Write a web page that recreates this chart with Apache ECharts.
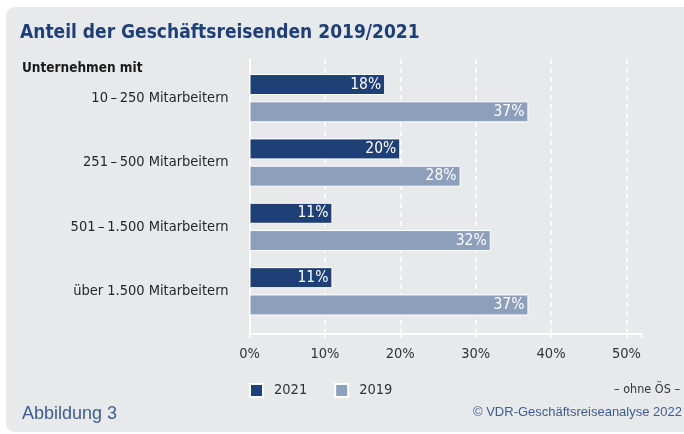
<!DOCTYPE html>
<html>
<head>
<meta charset="utf-8">
<script src="https://cdn.jsdelivr.net/npm/echarts@6/dist/echarts.min.js"></script>
<style>
  html, body { margin: 0; padding: 0; background: #fff; }
  #card { position: absolute; left: 6px; top: 7px; width: 700px; height: 425px; background: #e8e9eb; border-radius: 9px; }
  #main { position: absolute; left: 0; top: 0; width: 684px; height: 434px; }
</style>
</head>
<body>
<div id="card"></div>
<div id="main"></div>
<script>
const categories = ['10\u2009–\u2009250 Mitarbeitern', '251\u2009–\u2009500 Mitarbeitern', '501\u2009–\u20091.500 Mitarbeitern', 'über 1.500 Mitarbeitern'];
const values2021 = [18, 20, 11, 11];
const values2019 = [37, 28, 32, 37];
const tickValues = [0, 10, 20, 30, 40, 50];

const narrow = "'Liberation Sans Narrow', 'DejaVu Sans Condensed', sans-serif";
const dark = '#1f3f77';
const light = '#8d9fbb';
const textBlue = '#3d5d91';

const chart = echarts.init(document.getElementById('main'));

const barLabel = {
    show: true,
    position: 'insideRight',
    distance: 4,
    color: '#fff',
    fontFamily: narrow,
    fontSize: 15.5,
    formatter: p => p.value + '%'
};

const option = {
    backgroundColor: 'transparent',
    animation: false,
    title: [
        {
            text: 'Anteil der Geschäftsreisenden 2019/2021',
            left: 20, top: 24, padding: 0,
            textStyle: { color: dark, fontFamily: narrow, fontWeight: 'bold', fontSize: 19 }
        },
        {
            text: 'Unternehmen mit',
            left: 22, top: 61, padding: 0,
            textStyle: { color: '#1a1a1a', fontFamily: narrow, fontWeight: 'bold', fontSize: 13.5 }
        },
        {
            text: '– ohne ÖS –',
            right: 4, top: 383, padding: 0,
            textStyle: { color: '#333', fontFamily: narrow, fontWeight: 'normal', fontSize: 12.5 }
        },
        {
            text: 'Abbildung 3',
            left: 22, top: 405, padding: 0,
            textStyle: { color: textBlue, fontFamily: 'Liberation Sans, sans-serif', fontWeight: 'normal', fontSize: 18 }
        },
        {
            text: '© VDR-Geschäftsreiseanalyse 2022',
            right: 2, top: 406, padding: 0,
            textStyle: { color: textBlue, fontFamily: 'Liberation Sans, sans-serif', fontWeight: 'normal', fontSize: 13 }
        }
    ],
    legend: {
        data: ['2021', '2019'],
        left: 249, top: 383, padding: 0,
        icon: 'rect',
        itemWidth: 13, itemHeight: 13,
        itemGap: 27,
        textStyle: { color: '#333', fontFamily: narrow, fontSize: 14.5, padding: [0, 0, 0, 6] }
    },
    grid: [
        { left: 249.5, top: 59, width: 392, height: 275 },
        { left: 249.5, top: 66, width: 392, height: 257.5 }
    ],
    xAxis: [
        {
            gridIndex: 0, type: 'value', min: 0, max: 52, interval: 10,
            axisLine: { show: true, lineStyle: { color: '#fff', width: 2 } },
            axisTick: { show: true, length: 7, lineStyle: { color: '#fff', width: 1.5, type: [4, 3] } },
            splitLine: { show: true, showMaxLine: false, lineStyle: { color: '#fff', width: 1.5, type: [5, 4] } },
            axisLabel: {
                margin: 13, color: '#333', fontFamily: narrow, fontSize: 14.5,
                formatter: v => tickValues.includes(v) ? v + '%' : ''
            }
        },
        {
            gridIndex: 1, type: 'value', min: 0, max: 52,
            axisLine: { show: false }, axisTick: { show: false },
            splitLine: { show: false }, axisLabel: { show: false }
        }
    ],
    yAxis: [
        {
            gridIndex: 0, type: 'value', min: 0, max: 1,
            axisLine: { show: true, lineStyle: { color: '#fff', width: 2 } },
            axisTick: { show: false }, splitLine: { show: false }, axisLabel: { show: false }
        },
        {
            gridIndex: 1, type: 'category', data: categories, inverse: true,
            axisLine: { show: false }, axisTick: { show: false },
            axisLabel: { margin: 21, color: '#262626', fontFamily: narrow, fontSize: 14.5 }
        }
    ],
    series: [
        {
            name: '2021', type: 'bar', xAxisIndex: 1, yAxisIndex: 1,
            data: values2021, barWidth: 21, barGap: '30%',
            itemStyle: { color: dark, borderColor: '#fff', borderWidth: 1 },
            label: barLabel
        },
        {
            name: '2019', type: 'bar', xAxisIndex: 1, yAxisIndex: 1,
            data: values2019, barWidth: 21, barGap: '30%',
            itemStyle: { color: light, borderColor: '#fff', borderWidth: 1 },
            label: barLabel
        }
    ]
};

chart.setOption(option);
</script>
</body>
</html>
